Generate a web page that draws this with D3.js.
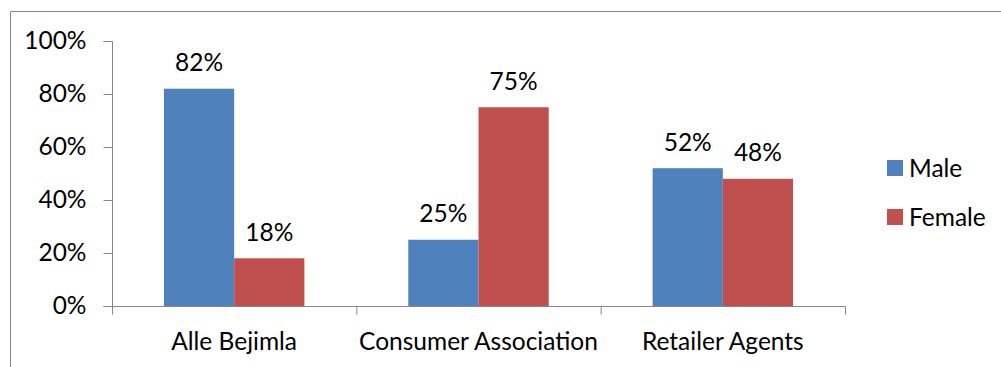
<!DOCTYPE html>
<html><head><meta charset="utf-8">
<script src="https://cdn.jsdelivr.net/npm/d3@7"></script>
<style>html,body{margin:0;padding:0;background:#fff;}svg{display:block;font-family:Lato,"Open Sans",sans-serif;}</style>
</head><body>
<svg id="c" width="1001" height="367"></svg>
<script>
const categories = ["Alle Bejimla", "Consumer Association", "Retailer Agents"];
const seriesNames = ["Male", "Female"];
const maleValues = [82, 25, 52];
const femaleValues = [18, 75, 48];
const yTicks = [0, 20, 40, 60, 80, 100];
const colors = ["#4F81BD", "#C0504D"];
const FS = 24.5;

const svg = d3.select("#c");
// frame
svg.append("line").attr("x1",10.5).attr("x2",1001).attr("y1",11.5).attr("y2",11.5).attr("stroke","#868686");
svg.append("line").attr("x1",10.5).attr("x2",10.5).attr("y1",11.5).attr("y2",367).attr("stroke","#868686");

const x0 = 112, x1 = 845, yTop = 41, yBot = 306;
const x = d3.scaleBand().domain(categories).range([x0, x1]).paddingInner(0).paddingOuter(0);
const xs = d3.scaleBand().domain(seriesNames).range([0, x.bandwidth()]).paddingInner(0).paddingOuter(0.74);
const y = d3.scaleLinear().domain([0, 100]).range([yBot, yTop]);

const data = categories.map((c,i)=>({cat:c, vals:[maleValues[i], femaleValues[i]]}));

// bars
const g = svg.append("g");
data.forEach(d=>{
  d.vals.forEach((v,j)=>{
    const bx = x(d.cat) + xs(seriesNames[j]);
    g.append("rect").attr("x",bx).attr("y",y(v)).attr("width",xs.bandwidth()).attr("height",y(0)-y(v)).attr("fill",colors[j]);
    g.append("text").attr("x",bx+xs.bandwidth()/2).attr("y",y(v)-26).attr("dy","0.35em")
      .attr("text-anchor","middle").attr("font-size",FS).attr("fill","#000").text(v+"%");
  });
});

// y axis
const ya = svg.append("g").attr("transform",`translate(${x0+0.5},0)`)
  .call(d3.axisLeft(y).tickValues(yTicks).tickSize(9).tickPadding(17).tickFormat(d=>d+"%"));
ya.select(".domain").attr("stroke","#868686").attr("d",`M-9,${yTop+0.5}H0V${yBot+0.5}H-9`);
ya.selectAll(".tick line").attr("stroke","#868686");
ya.selectAll(".tick text").attr("font-size",FS).attr("fill","#000").attr("font-family","Lato,'Open Sans',sans-serif");

// x axis
const xa = svg.append("g").attr("transform",`translate(0,${yBot+0.5})`);
xa.append("line").attr("x1",x0).attr("x2",x1+0.5).attr("stroke","#868686");
const bounds = categories.map(c=>x(c)).concat([x1]);
bounds.forEach(b=>xa.append("line").attr("x1",b+0.5).attr("x2",b+0.5).attr("y1",0).attr("y2",8).attr("stroke","#868686"));
categories.forEach(c=>xa.append("text").attr("x",x(c)+x.bandwidth()/2).attr("y",34.5).attr("dy","0.35em")
  .attr("text-anchor","middle").attr("font-size",FS).attr("fill","#000").text(c));

// legend
const lg = svg.append("g");
seriesNames.forEach((s,i)=>{
  const ly = 168 + i*49;
  lg.append("rect").attr("x",887).attr("y",ly-8).attr("width",16).attr("height",16).attr("fill",colors[i]);
  lg.append("text").attr("x",909).attr("y",ly).attr("dy","0.35em").attr("font-size",FS).attr("fill","#000").text(s);
});
</script>
</body></html>
